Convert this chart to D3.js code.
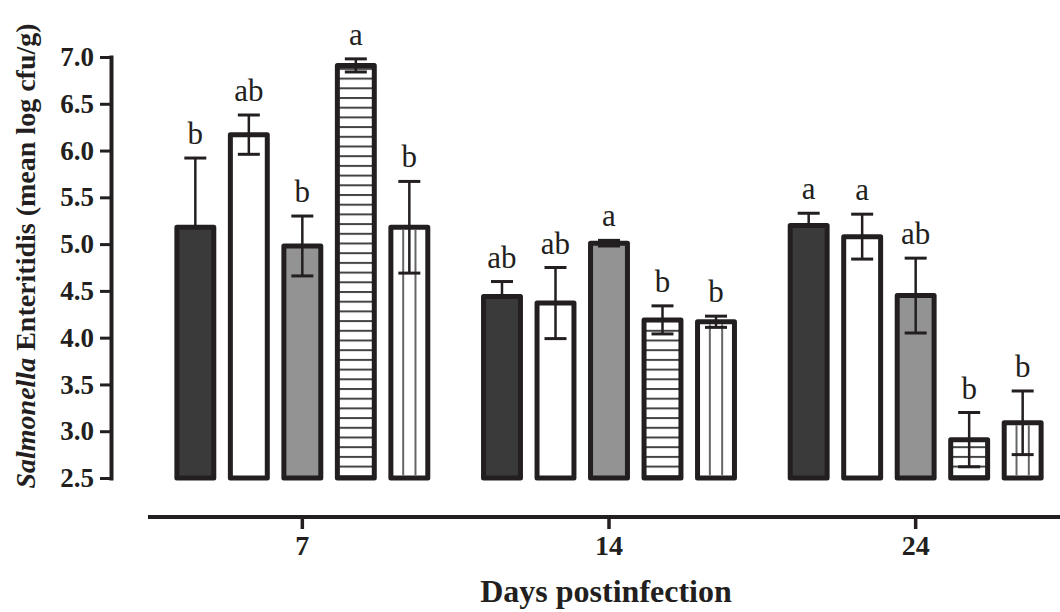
<!DOCTYPE html>
<html>
<head>
<meta charset="utf-8">
<script src="https://cdn.jsdelivr.net/npm/d3@7"></script>
<style>
  body { margin: 0; background: #fff; }
  svg { display: block; }
  .tick text { font-family: "Liberation Serif", serif; font-weight: bold; fill: #231f20; }
</style>
</head>
<body>
<div id="chart"></div>
<script>
/* CONSTANTS AND GLOBALS */
const width = 1060,
  height = 612,
  ink = "#231f20";

/* DATA */
const days = ["7", "14", "24"];
const treatments = ["t1", "t2", "t3", "t4", "t5"];
const means = [
  [5.18, 6.17, 4.98, 6.91, 5.18],
  [4.44, 4.37, 5.01, 4.19, 4.17],
  [5.20, 5.08, 4.45, 2.91, 3.09]
];
const sems = [
  [0.74, 0.21, 0.32, 0.07, 0.49],
  [0.16, 0.38, 0.03, 0.15, 0.06],
  [0.13, 0.24, 0.40, 0.29, 0.34]
];
const letters = [
  ["b", "ab", "b", "a", "b"],
  ["ab", "ab", "a", "b", "b"],
  ["a", "a", "ab", "b", "b"]
];
const yTicks = [2.5, 3.0, 3.5, 4.0, 4.5, 5.0, 5.5, 6.0, 6.5, 7.0];

// flatten to one row per bar
const rows = [];
days.forEach((d, i) => treatments.forEach((t, j) => {
  rows.push({ day: d, t: t, j: j, mean: means[i][j], sem: sems[i][j], letter: letters[i][j] });
}));

/* SCALES */
const yScale = d3.scaleLinear().domain([2.5, 7.0]).range([478, 57]);
const xScale = d3.scaleBand().domain(days).range([149, 1069]);
const inner = d3.scaleBand().domain(treatments)
  .range([-133.75, 133.75]).paddingInner(0.31).paddingOuter(0.155);

const fills = { t1: "#3a3a3a", t2: "#ffffff", t3: "#939393", t4: "url(#hatch)", t5: "#ffffff" };

const svg = d3.select("#chart").append("svg")
  .attr("width", width).attr("height", height);

// horizontal hatching
const pat = svg.append("defs").append("pattern")
  .attr("id", "hatch")
  .attr("patternUnits", "userSpaceOnUse")
  .attr("width", 10).attr("height", 9.7);
pat.append("rect").attr("width", 10).attr("height", 9.7).attr("fill", "#fff");
pat.append("line").attr("x1", 0).attr("x2", 10).attr("y1", 1).attr("y2", 1)
  .attr("stroke", "#444").attr("stroke-width", 2);

// + AXES
const yAxis = d3.axisLeft(yScale).tickValues(yTicks).tickFormat(d3.format(".1f"))
  .tickSize(11).tickSizeOuter(0).tickPadding(6);

const yg = svg.append("g")
  .attr("transform", "translate(111,0)")
  .call(yAxis);
yg.select(".domain").attr("stroke", ink).attr("stroke-width", 4).attr("stroke-linecap", "square");
yg.selectAll(".tick line").attr("stroke", ink).attr("stroke-width", 3);
yg.selectAll(".tick text").attr("font-size", 27);

const xAxis = d3.axisBottom(xScale).tickSize(12).tickSizeOuter(0).tickPadding(6);
const xg = svg.append("g")
  .attr("transform", "translate(0,517)")
  .call(xAxis);
xg.select(".domain").attr("d", "M148,0H1060").attr("stroke", ink).attr("stroke-width", 4);
xg.selectAll(".tick line").attr("stroke", ink).attr("stroke-width", 3.5);
xg.selectAll(".tick text").attr("font-size", 28);

// axis titles
svg.append("text")
  .attr("x", 606).attr("y", 602)
  .attr("text-anchor", "middle")
  .attr("font-family", "Liberation Serif, serif")
  .attr("font-weight", "bold")
  .attr("font-size", 32)
  .attr("fill", ink)
  .text("Days postinfection");

const yt = svg.append("text")
  .attr("transform", "translate(35,256) rotate(-90)")
  .attr("text-anchor", "middle")
  .attr("font-family", "Liberation Serif, serif")
  .attr("font-weight", "bold")
  .attr("font-size", 28)
  .attr("fill", ink);
yt.append("tspan").attr("font-style", "italic").text("Salmonella");
yt.append("tspan").text(" Enteritidis (mean log cfu/g)");

/* BARS */
const barX = d => xScale(d.day) + xScale.bandwidth() / 2 + inner(d.t);
const barC = d => barX(d) + inner.bandwidth() / 2;

const bars = svg.append("g").selectAll("g.bar")
  .data(rows)
  .join("g")
  .attr("class", "bar");

bars.append("rect")
  .attr("x", barX)
  .attr("y", d => yScale(d.mean))
  .attr("width", inner.bandwidth())
  .attr("height", d => yScale(2.5) - yScale(d.mean))
  .attr("fill", d => fills[d.t])
  .attr("stroke", ink)
  .attr("stroke-width", 5)
  .attr("stroke-linejoin", "round");

// vertical lines in the last treatment
bars.filter(d => d.t === "t5")
  .selectAll("line.v")
  .data(d => [1 / 3, 2 / 3].map(f => ({ d: d, f: f })))
  .join("line")
  .attr("class", "v")
  .attr("x1", o => barX(o.d) + inner.bandwidth() * o.f)
  .attr("x2", o => barX(o.d) + inner.bandwidth() * o.f)
  .attr("y1", o => yScale(o.d.mean) + 2.5)
  .attr("y2", yScale(2.5) - 2.5)
  .attr("stroke", "#666")
  .attr("stroke-width", 2);

// error bars (the lower half disappears into the dark bars)
const dark = d => d.t === "t1";
bars.append("line")
  .attr("x1", barC).attr("x2", barC)
  .attr("y1", d => yScale(d.mean + d.sem))
  .attr("y2", d => yScale(dark(d) ? d.mean : d.mean - d.sem))
  .attr("stroke", ink).attr("stroke-width", 2.5);

bars.append("line")
  .attr("x1", d => barC(d) - 11).attr("x2", d => barC(d) + 11)
  .attr("y1", d => yScale(d.mean + d.sem))
  .attr("y2", d => yScale(d.mean + d.sem))
  .attr("stroke", ink).attr("stroke-width", 3);

bars.filter(d => !dark(d)).append("line")
  .attr("x1", d => barC(d) - 11).attr("x2", d => barC(d) + 11)
  .attr("y1", d => yScale(d.mean - d.sem))
  .attr("y2", d => yScale(d.mean - d.sem))
  .attr("stroke", ink).attr("stroke-width", 3);

// significance letters
bars.append("text")
  .attr("x", barC)
  .attr("y", d => yScale(d.mean + d.sem) - 14)
  .attr("text-anchor", "middle")
  .attr("font-family", "Liberation Serif, serif")
  .attr("font-size", 31)
  .attr("fill", ink)
  .text(d => d.letter);
</script>
</body>
</html>
